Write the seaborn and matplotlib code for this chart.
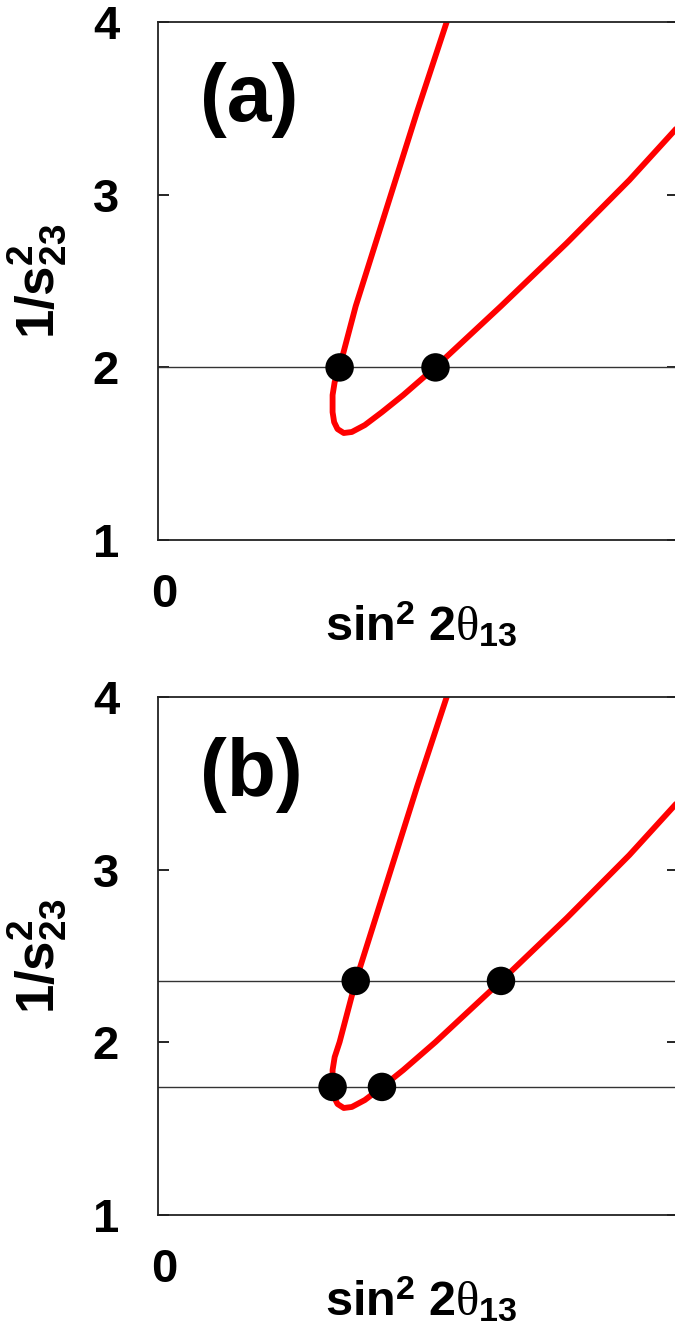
import matplotlib
matplotlib.use("Agg")
import matplotlib.pyplot as plt
import matplotlib.transforms as mtransforms
import seaborn as sns
import pandas as pd

# Contour of allowed (sin^2 2theta13, 1/s23^2) values
curve_x = [0.1111, 0.0998, 0.0761, 0.0699, 0.0680, 0.0672, 0.0672,
           0.0678, 0.0691, 0.0715, 0.0746, 0.0796, 0.0862, 0.0944, 0.1068,
           0.1320, 0.1573, 0.1814, 0.2000]
curve_y = [4.000, 3.485, 2.355, 2.002, 1.915, 1.840, 1.741,
           1.683, 1.643, 1.620, 1.626, 1.666, 1.741, 1.840, 2.002,
           2.355, 2.720, 3.085, 3.392]

# Panel (a): one value of 1/s23^2
levels_a = [2.0]
dots_a_x = [0.0699, 0.1068]
dots_a_y = [2.0, 2.0]

# Panel (b): two values of 1/s23^2
levels_b = [2.356, 1.742]
dots_b_x = [0.0761, 0.1320, 0.0672, 0.0862]
dots_b_y = [2.356, 2.356, 1.742, 1.742]

y_ticks = [1, 2, 3, 4]
x_ticks = [0]
panel_tags = ["(a)", "(b)"]

sns.set_theme(style="white")
plt.rcParams["font.family"] = ["Liberation Sans", "DejaVu Sans"]
plt.rcParams["font.weight"] = "bold"
plt.rcParams["text.color"] = "black"
plt.rcParams["axes.labelcolor"] = "black"
plt.rcParams["xtick.color"] = "black"
plt.rcParams["ytick.color"] = "black"
plt.rcParams["mathtext.fontset"] = "custom"
plt.rcParams["mathtext.rm"] = "Liberation Sans:bold"
plt.rcParams["mathtext.bf"] = "Liberation Sans:bold"
plt.rcParams["mathtext.it"] = "Liberation Serif:style=normal:weight=normal"

fig = plt.figure(figsize=(6.75, 13.24), dpi=100)
ax_a = fig.add_axes([0.234, 0.5921, 0.770, 0.3912])
ax_b = fig.add_axes([0.234, 0.0823, 0.770, 0.3912])

curve = pd.DataFrame({"x": curve_x, "y": curve_y})

panels = [
    (ax_a, levels_a, dots_a_x, dots_a_y, panel_tags[0]),
    (ax_b, levels_b, dots_b_x, dots_b_y, panel_tags[1]),
]

for ax, levels, dx, dy, tag in panels:
    for lv in levels:
        ax.axhline(lv, color="#333333", lw=1.0, zorder=1)
    sns.lineplot(data=curve, x="x", y="y", sort=False, estimator=None,
                 color="#ff0000", lw=4.2, ax=ax, zorder=2,
                 solid_capstyle="round", solid_joinstyle="round")
    sns.scatterplot(x=dx, y=dy, s=420, color="black", edgecolor="none",
                    ax=ax, zorder=3)

    ax.set_xlim(0, 0.2)
    ax.set_ylim(1, 4)
    ax.set_yticks(y_ticks)
    ax.set_yticklabels([str(t) for t in y_ticks], fontsize=34, fontweight="bold",
                       color="black")
    ax.set_xticks(x_ticks)
    ax.set_xticklabels(["0"], fontsize=34, fontweight="bold", color="black")
    ax.tick_params(axis="y", direction="in", length=8, width=1.2,
                   right=True, left=True, pad=28)
    ax.tick_params(axis="x", length=0, pad=24)
    for lbl in ax.get_xticklabels():
        lbl.set_transform(lbl.get_transform() +
                          mtransforms.ScaledTranslation(6 / 100, 0, fig.dpi_scale_trans))
    for side in ["left", "top", "bottom", "right"]:
        ax.spines[side].set_visible(True)
        ax.spines[side].set_color("#222222")
        ax.spines[side].set_linewidth(1.3)

    ax.set_xlabel("")
    ax.set_ylabel("")
    ax.text(-0.232, 0.5, r"$\mathrm{1/s}^{\mathrm{2}}_{\mathrm{23}}$",
            transform=ax.transAxes, rotation=90, ha="center", va="center",
            fontsize=38, color="black")
    ax.text(0.507, -0.165, r"$\mathrm{sin}^{\mathrm{2}}\ \mathrm{2}\theta_{\mathrm{13}}$",
            transform=ax.transAxes, ha="center", va="center", fontsize=35,
            color="black")
    ax.text(0.081, 0.85, tag, transform=ax.transAxes, ha="left", va="center",
            fontsize=58, fontweight="bold", color="black")

fig.savefig("out.png", dpi=100)
